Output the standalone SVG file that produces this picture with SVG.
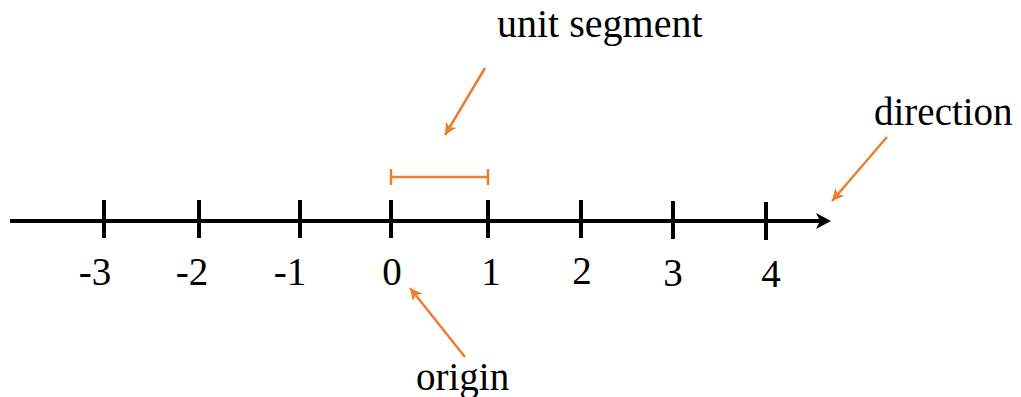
<svg xmlns="http://www.w3.org/2000/svg" width="1021" height="397" viewBox="0 0 1021 397">
<style>
text{font-family:"Liberation Serif","Times New Roman",serif;font-size:39px;fill:#000}
.num{text-anchor:middle}
.tick{stroke:#000;stroke-width:4}
.or{stroke:#ED7D31;stroke-width:2.5;fill:none}
</style>
<defs>
<marker id="oa" markerUnits="userSpaceOnUse" markerWidth="14" markerHeight="12" refX="12" refY="6" orient="auto">
<path d="M0,0 L12,6 L0,12 L3,6 Z" fill="#ED7D31"/>
</marker>
</defs>
<rect width="1021" height="397" fill="#fff"/>
<g id="axis">
<line x1="10" y1="221" x2="822" y2="221" stroke="#000" stroke-width="4"/>
<path d="M831,221 L816,213 L820,221 L816,229 Z" fill="#000"/>
</g>
<g id="ticks">
<line class="tick" x1="104" y1="200" x2="104" y2="238"/>
<line class="tick" x1="199" y1="200" x2="199" y2="238"/>
<line class="tick" x1="300" y1="200" x2="300" y2="238"/>
<line class="tick" x1="391" y1="200" x2="391" y2="238"/>
<line class="tick" x1="488" y1="200" x2="488" y2="238"/>
<line class="tick" x1="581" y1="200" x2="581" y2="238"/>
<line class="tick" x1="673" y1="201" x2="673" y2="239"/>
<line class="tick" x1="766" y1="202" x2="766" y2="240"/>
</g>
<g id="labels">
<text class="num" x="95" y="285">-3</text>
<text class="num" x="192" y="285">-2</text>
<text class="num" x="290" y="285">-1</text>
<text class="num" x="392" y="285">0</text>
<text class="num" x="491" y="285">1</text>
<text class="num" x="582" y="284">2</text>
<text class="num" x="673" y="286">3</text>
<text class="num" x="771" y="287">4</text>
</g>
<g id="unit-segment">
<path class="or" d="M391,177 L488,177 M391,169 L391,185 M488,169 L488,185"/>
</g>
<g id="unit-label"><text x="497" y="37" style="font-size:40px">unit segment</text></g>
<g id="direction-label"><text x="874" y="125">direction</text></g>
<g id="origin-label"><text x="416" y="390">origin</text></g>
<g id="connectors">
<line class="or" x1="485" y1="68" x2="445" y2="135" marker-end="url(#oa)"/>
<line class="or" x1="887" y1="137" x2="832" y2="201" marker-end="url(#oa)"/>
<line class="or" x1="465" y1="357" x2="410" y2="288" marker-end="url(#oa)"/>
</g>
</svg>
